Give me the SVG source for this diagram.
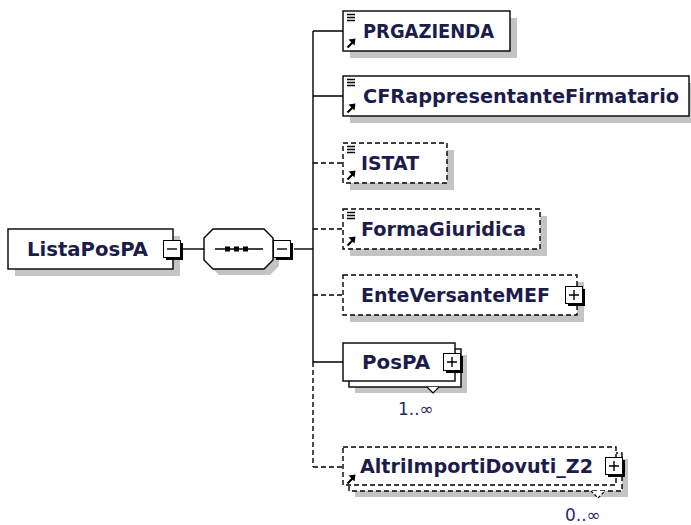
<svg xmlns="http://www.w3.org/2000/svg" xmlns:xlink="http://www.w3.org/1999/xlink" width="691" height="525" viewBox="0 0 691 525">
<defs>
<style>
.bx{fill:#fff;stroke:#000;stroke-width:1.4}
.dbx{fill:#fff;stroke:#000;stroke-width:1.4;stroke-dasharray:5,3}
.sh{fill:#c4c4c4}
.ln{fill:none;stroke:#000;stroke-width:1.4}
.dln{fill:none;stroke:#000;stroke-width:1.4;stroke-dasharray:5,3}
.t{font-family:"DejaVu Sans",Verdana,sans-serif;font-weight:bold;font-size:19.5px;fill:#1c1c4c}
.occ{font-family:"DejaVu Sans",sans-serif;font-size:17px;fill:#2a2a6a}
.notch{fill:#fff;stroke:#000;stroke-width:1.2}
</style>
<g id="lines"><path d="M4,3.5h8M4,6.5h8M4,9.5h8" stroke="#000" stroke-width="1.4"/></g>
<g id="ref"><path d="M4.5,36.5 L9.5,31.5" stroke="#000" stroke-width="2.2"/><polygon points="12.5,27.5 5.5,28.5 11.5,34.5" fill="#000"/></g>
<g id="minus"><rect x="3" y="3" width="17" height="17" fill="#000"/><rect x="0.5" y="0.5" width="17" height="17" fill="#fff" stroke="#000"/><path d="M4,9h10" stroke="#000" stroke-width="1.4"/></g>
<g id="plus"><rect x="3" y="3" width="17" height="17" fill="#000"/><rect x="0.5" y="0.5" width="17" height="17" fill="#fff" stroke="#000"/><path d="M4,9h10M9,4v10" stroke="#000" stroke-width="1.4"/></g>
</defs>
<rect width="691" height="525" fill="#fff"/>

<g id="connectors">
<path class="ln" d="M183,249 H204"/>
<path class="ln" d="M294,249 H313"/>
<path class="ln" d="M313,31 V362"/>
<path class="dln" d="M313,362 V467"/>
<path class="ln" d="M313,31 H343 M313,96 H343 M313,362 H343"/>
<path class="dln" d="M313,163 H343 M313,229 H343 M313,295 H343 M313,467 H343"/>
</g>

<g id="ListaPosPA">
<rect class="sh" x="15" y="236" width="165" height="40"/>
<rect class="bx" x="8" y="229" width="165" height="40"/>
<text class="t" x="27" y="256" textLength="121" lengthAdjust="spacingAndGlyphs">ListaPosPA</text>
<use xlink:href="#minus" x="163" y="240"/>
</g>

<g id="sequence">
<polygon class="sh" points="219,235 270,235 279,244 279,266 270,275 219,275 210,266 210,244"/>
<polygon class="bx" points="213,229 264,229 273,238 273,260 264,269 213,269 204,260 204,238"/>
<path class="ln" d="M215,249 H263"/>
<rect x="225" y="246.5" width="5" height="5" fill="#000"/>
<rect x="234" y="246.5" width="5" height="5" fill="#000"/>
<rect x="243" y="246.5" width="5" height="5" fill="#000"/>
<use xlink:href="#minus" x="273" y="240"/>
</g>

<g id="PRGAZIENDA">
<rect class="sh" x="350" y="18" width="167" height="40"/>
<rect class="bx" x="343" y="11" width="167" height="40"/>
<use xlink:href="#lines" x="343" y="11"/>
<use xlink:href="#ref" x="343" y="11"/>
<text class="t" x="363" y="38" textLength="131" lengthAdjust="spacingAndGlyphs">PRGAZIENDA</text>
</g>

<g id="CFRappresentanteFirmatario">
<rect class="sh" x="350" y="83" width="346" height="40"/>
<rect class="bx" x="343" y="76" width="346" height="40"/>
<use xlink:href="#lines" x="343" y="76"/>
<use xlink:href="#ref" x="343" y="76"/>
<text class="t" x="363" y="103" textLength="316" lengthAdjust="spacingAndGlyphs">CFRappresentanteFirmatario</text>
</g>

<g id="ISTAT">
<rect class="sh" x="350" y="150" width="104" height="40"/>
<rect class="dbx" x="343" y="143" width="104" height="40"/>
<use xlink:href="#lines" x="343" y="143"/>
<use xlink:href="#ref" x="343" y="143"/>
<text class="t" x="361" y="170" textLength="58" lengthAdjust="spacingAndGlyphs">ISTAT</text>
</g>

<g id="FormaGiuridica">
<rect class="sh" x="350" y="216" width="197" height="40"/>
<rect class="dbx" x="343" y="209" width="197" height="40"/>
<use xlink:href="#lines" x="343" y="209"/>
<use xlink:href="#ref" x="343" y="209"/>
<text class="t" x="361" y="236" textLength="165" lengthAdjust="spacingAndGlyphs">FormaGiuridica</text>
</g>

<g id="EnteVersanteMEF">
<rect class="sh" x="350" y="282" width="234" height="40"/>
<rect class="dbx" x="343" y="275" width="234" height="40"/>
<text class="t" x="361" y="302" textLength="189" lengthAdjust="spacingAndGlyphs">EnteVersanteMEF</text>
<use xlink:href="#plus" x="565" y="286"/>
</g>

<g id="PosPA">
<rect class="sh" x="355" y="355" width="112" height="38"/>
<rect class="bx" x="349" y="349" width="112" height="38"/>
<path class="notch" d="M427,387 L433,393 L439,387"/>
<rect class="bx" x="343" y="343" width="112" height="38"/>
<text class="t" x="362" y="369" textLength="68" lengthAdjust="spacingAndGlyphs">PosPA</text>
<use xlink:href="#plus" x="443" y="353"/>
<text class="occ" x="398" y="415">1..∞</text>
</g>

<g id="AltriImportiDovuti_Z2">
<rect class="sh" x="355" y="459" width="273" height="38"/>
<rect class="dbx" x="349" y="453" width="273" height="38"/>
<path class="notch" d="M591,491 L598,498 L605,491" stroke-dasharray="3,2"/>
<rect class="dbx" x="343" y="447" width="273" height="38"/>
<use xlink:href="#ref" x="343" y="447"/>
<text class="t" x="360" y="473" textLength="233" lengthAdjust="spacingAndGlyphs">AltriImportiDovuti_Z2</text>
<use xlink:href="#plus" x="605" y="457"/>
<text class="occ" x="565" y="521">0..∞</text>
</g>
</svg>
